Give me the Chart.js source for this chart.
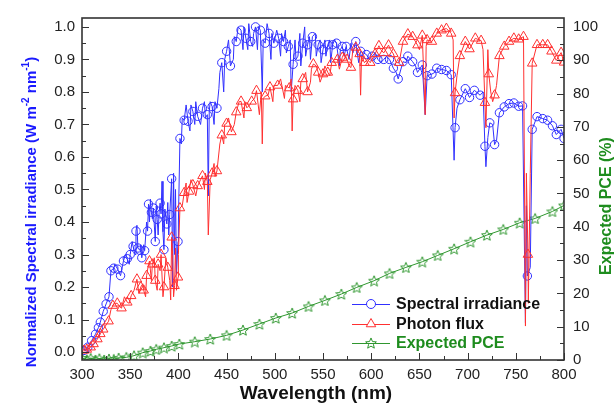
<!DOCTYPE html>
<html>
<head>
<meta charset="utf-8">
<script src="https://cdn.jsdelivr.net/npm/chart.js@4/dist/chart.umd.min.js"></script>
<style>
  html, body { margin: 0; padding: 0; background: #fff; }
  #wrap { width: 614px; height: 403px; }
</style>
</head>
<body>
<div id="wrap"><canvas id="spectrumChart" width="614" height="403"></canvas></div>
<script>
// tick labels
const xTickVals = [300, 350, 400, 450, 500, 550, 600, 650, 700, 750, 800];
const leftTickVals = [0, 0.1, 0.2, 0.3, 0.4, 0.5, 0.6, 0.7, 0.8, 0.9, 1.0];
const rightTickVals = [0, 10, 20, 30, 40, 50, 60, 70, 80, 90, 100];

// Spectral irradiance - points with circle markers
const irrWl = [302, 306, 310, 314, 317, 319, 322, 325, 328, 330, 333, 337, 340, 343, 347, 350, 353, 356, 358, 360,
  362, 365, 368, 369, 372, 374, 376, 378, 381, 382, 385, 388, 391, 393, 399.6, 401.6, 406, 410, 415, 420,
  425, 430, 435, 440, 445, 450, 454, 460, 465, 470, 475, 480, 485, 490, 494, 499, 504, 509, 514, 519,
  524, 529, 534, 539, 545, 550, 555, 560, 564, 570, 574, 584, 589, 595, 601, 607, 613, 619, 623, 628,
  633, 638, 643, 648, 653, 658, 663, 668, 673, 678, 683, 687, 692, 697.6, 702, 707, 713, 718, 723, 728,
  733, 738, 743, 748, 753, 757, 762, 767, 772, 778, 783, 788, 792, 797, 800];
const irrVal = [0.005, 0.015, 0.035, 0.055, 0.075, 0.092, 0.125, 0.148, 0.17, 0.25, 0.258, 0.255, 0.235, 0.28, 0.287, 0.30, 0.325, 0.372, 0.32, 0.313,
  0.29, 0.312, 0.372, 0.455, 0.43, 0.443, 0.34, 0.408, 0.458, 0.425, 0.315, 0.394, 0.423, 0.533, 0.34, 0.657, 0.713, 0.71, 0.74, 0.725,
  0.75, 0.73, 0.755, 0.75, 0.89, 0.925, 0.88, 0.955, 0.99, 0.965, 0.955, 1.0, 0.99, 0.95, 0.98, 0.95, 0.965, 0.955, 0.94, 0.885,
  0.91, 0.95, 0.945, 0.97, 0.945, 0.93, 0.945, 0.945, 0.95, 0.94, 0.94, 0.955, 0.925, 0.915, 0.91, 0.90, 0.90, 0.90, 0.873, 0.84,
  0.893, 0.91, 0.893, 0.86, 0.883, 0.85, 0.855, 0.873, 0.869, 0.866, 0.853, 0.69, 0.776, 0.81, 0.783, 0.805, 0.79, 0.633, 0.705, 0.638,
  0.736, 0.754, 0.764, 0.766, 0.756, 0.757, 0.234, 0.685, 0.724, 0.718, 0.713, 0.696, 0.669, 0.685, 0.657];
// Spectral irradiance - line only (absorption lines / noise)
const irrDipWl = [334, 345, 349, 352, 355, 357, 361, 364, 367, 370, 371, 373, 377, 379, 380, 383, 384, 386, 389, 390,
  392, 394, 395, 396, 397, 398, 400, 403, 404, 408, 412, 413, 417, 418, 423, 427, 428, 431, 432, 433,
  437, 438, 442, 443, 447, 448, 452, 457, 458, 462, 467, 468, 472, 473, 477, 478, 482, 483, 487, 488,
  492, 496, 497, 502, 506, 507, 511, 512, 516, 517, 521, 522, 526, 527, 531, 532, 536, 537, 542, 543,
  547, 548, 552, 553, 557, 558, 562, 567, 568, 572, 577, 579, 581, 587, 592, 598, 604, 610, 616, 626,
  636, 646, 656, 666, 686, 689, 716, 719, 721, 726, 730, 760, 761, 765];
const irrDipVal = [0.27, 0.30, 0.27, 0.34, 0.30, 0.39, 0.33, 0.33, 0.40, 0.40, 0.47, 0.41, 0.45, 0.36, 0.43, 0.525, 0.37, 0.44, 0.46, 0.36,
  0.48, 0.20, 0.55, 0.30, 0.50, 0.24, 0.40, 0.64, 0.72, 0.76, 0.68, 0.76, 0.70, 0.77, 0.70, 0.77, 0.72, 0.48, 0.74, 0.77,
  0.70, 0.77, 0.81, 0.86, 0.80, 0.90, 0.96, 0.90, 0.97, 1.0, 0.93, 1.0, 0.93, 1.01, 0.94, 0.98, 0.93, 1.0, 0.80, 0.96,
  1.01, 0.90, 0.98, 0.99, 0.91, 0.98, 0.99, 0.92, 0.96, 0.80, 0.96, 0.90, 0.98, 0.88, 1.0, 0.91, 0.97, 0.90, 0.98, 0.91,
  0.96, 0.89, 0.96, 0.91, 0.96, 0.89, 0.96, 0.88, 0.93, 0.91, 0.90, 0.95, 0.92, 0.89, 0.92, 0.90, 0.92, 0.89, 0.91, 0.86,
  0.89, 0.88, 0.73, 0.86, 0.59, 0.75, 0.80, 0.57, 0.66, 0.70, 0.65, 0.09, 0.45, 0.26];

// Photon flux - points with triangle markers
const fluxWl = [302, 305, 309, 312, 316, 319, 322, 327.6, 332, 336.6, 341, 347, 351, 357, 361, 364, 367, 370, 373, 376,
  379, 382, 385, 389, 393, 396, 399.6, 401.6, 406, 411, 415, 420, 425, 430, 435, 440, 445, 450, 455, 460,
  465, 471, 476, 481, 490, 495, 503, 515, 519, 524, 529, 534, 540, 545, 550, 555, 559, 565, 570, 575,
  579, 584, 588, 593, 599, 604, 608, 613, 618, 623, 629, 633, 638, 643, 648, 653, 658, 663, 668, 673,
  678, 683, 687, 692, 697.6, 702, 708, 714, 718, 722, 728, 733, 738, 743, 748, 753, 758, 762.6, 767, 772,
  778, 783, 787, 792, 797, 800];
const fluxVal = [0.005, 0.008, 0.015, 0.025, 0.04, 0.056, 0.07, 0.095, 0.143, 0.15, 0.135, 0.153, 0.173, 0.224, 0.2, 0.19, 0.235, 0.28, 0.27, 0.22,
  0.27, 0.30, 0.20, 0.26, 0.353, 0.204, 0.23, 0.443, 0.49, 0.494, 0.514, 0.511, 0.542, 0.524, 0.55, 0.557, 0.667, 0.703, 0.677, 0.738,
  0.771, 0.751, 0.771, 0.804, 0.787, 0.815, 0.82, 0.812, 0.778, 0.804, 0.84, 0.80, 0.886, 0.86, 0.855, 0.86, 0.89, 0.90, 0.906, 0.90,
  0.875, 0.937, 0.917, 0.89, 0.89, 0.917, 0.942, 0.92, 0.944, 0.917, 0.89, 0.955, 0.978, 0.97, 0.944, 0.974, 0.96, 0.955, 0.98, 0.99,
  0.995, 0.98, 0.797, 0.911, 0.955, 0.932, 0.965, 0.958, 0.767, 0.855, 0.79, 0.911, 0.94, 0.955, 0.965, 0.962, 0.97, 0.30, 0.888, 0.945,
  0.945, 0.945, 0.925, 0.897, 0.921, 0.891];
// Photon flux - line only
const fluxDipWl = [330, 334, 339, 344, 349, 354, 359, 363, 366, 369, 372, 375, 378, 381, 384, 387, 391, 392, 394, 395,
  397, 398, 400, 404, 408, 409, 413, 418, 423, 427, 428, 431, 433, 437, 438, 443, 447, 448, 452, 458,
  463, 468, 469, 474, 479, 484, 486, 487, 488, 493, 498, 499, 506, 510, 511, 517, 518, 521, 526, 527,
  532, 537, 538, 543, 547, 552, 557, 562, 567, 572, 577, 581, 589, 590, 596, 610, 620, 626, 650, 656,
  657, 685, 686, 689, 712, 716, 719, 721, 724, 726, 730, 760, 761, 763, 765];
const fluxDipVal = [0.13, 0.15, 0.14, 0.17, 0.15, 0.19, 0.18, 0.21, 0.17, 0.27, 0.22, 0.29, 0.19, 0.25, 0.17, 0.29, 0.22, 0.16, 0.30, 0.17,
  0.32, 0.19, 0.30, 0.45, 0.52, 0.46, 0.53, 0.48, 0.53, 0.50, 0.55, 0.36, 0.53, 0.58, 0.54, 0.64, 0.64, 0.70, 0.72, 0.70,
  0.77, 0.72, 0.77, 0.76, 0.78, 0.73, 0.80, 0.64, 0.78, 0.79, 0.77, 0.82, 0.84, 0.78, 0.82, 0.84, 0.68, 0.82, 0.77, 0.83,
  0.86, 0.83, 0.87, 0.88, 0.83, 0.88, 0.85, 0.90, 0.87, 0.92, 0.88, 0.93, 0.79, 0.91, 0.90, 0.93, 0.93, 0.89, 0.93, 0.73,
  0.94, 0.96, 0.72, 0.85, 0.96, 0.93, 0.69, 0.93, 0.80, 0.77, 0.82, 0.08, 0.55, 0.15, 0.55];

// Expected PCE (%) - right axis
const pceWl = [300, 305, 309, 314, 318, 323, 328, 333, 338, 346, 354, 363, 371, 377, 385, 393, 401, 417, 433, 450,
  467, 484, 501, 518, 535, 552, 569, 585, 603, 619, 636, 653, 669, 686, 703, 720, 737, 754, 770, 788, 800];
const pceVal = [0.6, 0.1, 0.5, 0, 0.4, 0, 0.3, 0.2, 0.6, 0.8, 1.3, 2.2, 2.7, 3.2, 3.7, 4.2, 4.8, 5.5, 6.3, 7.4,
  9.0, 10.8, 12.6, 14.1, 16.1, 17.9, 19.8, 21.8, 23.8, 26.0, 27.8, 29.5, 31.4, 33.4, 35.5, 37.5, 39.2, 41.2, 42.5, 44.6, 46.4];

const BLUE = "#3030ff";
const RED = "#ff3030";
const GREEN = "#2f972f";
const FONT = "'Liberation Sans', Arial, sans-serif";

// merge marker points and line-only points, sorted by wavelength
function buildSeries(wl, val, dipWl, dipVal) {
  const pts = wl.map((x, i) => ({ x: x, y: val[i], m: true }));
  (dipWl || []).forEach((x, i) => pts.push({ x: x, y: dipVal[i], m: false }));
  pts.sort((a, b) => a.x - b.x);
  return pts;
}

// hollow 5-point star used as point style
function makeStar(color, size) {
  const c = document.createElement("canvas");
  c.width = size;
  c.height = size;
  const g = c.getContext("2d");
  g.strokeStyle = color;
  g.lineWidth = 1;
  g.beginPath();
  for (let i = 0; i < 10; i++) {
    const r = i % 2 ? size * 0.21 : size * 0.47;
    const a = -Math.PI / 2 + (i * Math.PI) / 5;
    const px = size / 2 + r * Math.cos(a);
    const py = size / 2 + 0.6 + r * Math.sin(a);
    if (i === 0) g.moveTo(px, py);
    else g.lineTo(px, py);
  }
  g.closePath();
  g.stroke();
  return c;
}
const starImg = makeStar(GREEN, 12);

// frame, inward ticks, axis titles and legend
const decorPlugin = {
  id: "decor",
  afterDraw(chart) {
    const ctx = chart.ctx;
    const a = chart.chartArea;
    const sx = chart.scales.x, sy = chart.scales.y, sy2 = chart.scales.y2;
    ctx.save();
    ctx.strokeStyle = "#333";
    ctx.lineWidth = 1;
    ctx.beginPath();
    xTickVals.forEach((v, i) => {
      const px = Math.round(sx.getPixelForValue(v)) + 0.5;
      ctx.moveTo(px, a.bottom); ctx.lineTo(px, a.bottom - 7);
      if (i < xTickVals.length - 1) {
        const mx = Math.round(sx.getPixelForValue(v + 25)) + 0.5;
        ctx.moveTo(mx, a.bottom); ctx.lineTo(mx, a.bottom - 4);
      }
    });
    leftTickVals.forEach((v, i) => {
      const py = Math.round(sy.getPixelForValue(v)) + 0.5;
      ctx.moveTo(a.left, py); ctx.lineTo(a.left + 7, py);
      if (i < leftTickVals.length - 1) {
        const my = Math.round(sy.getPixelForValue(v + 0.05)) + 0.5;
        ctx.moveTo(a.left, my); ctx.lineTo(a.left + 4, my);
      }
    });
    rightTickVals.forEach((v, i) => {
      const py = Math.round(sy2.getPixelForValue(v)) + 0.5;
      ctx.moveTo(a.right, py); ctx.lineTo(a.right - 7, py);
      if (i < rightTickVals.length - 1) {
        const my = Math.round(sy2.getPixelForValue(v + 5)) + 0.5;
        ctx.moveTo(a.right, my); ctx.lineTo(a.right - 4, my);
      }
    });
    ctx.stroke();
    ctx.lineWidth = 1.6;
    ctx.strokeRect(a.left, a.top, a.right - a.left, a.bottom - a.top);

    // x title
    ctx.fillStyle = "#111";
    ctx.font = "bold 19px " + FONT;
    ctx.textAlign = "center";
    ctx.textBaseline = "middle";
    ctx.fillText("Wavelength (nm)", 316, 394);

    // left title with superscripts
    ctx.save();
    ctx.translate(32, 212);
    ctx.rotate(-Math.PI / 2);
    const parts = [
      ["Normalized Spectral irradiance (W m", false],
      ["-2", true],
      [" nm", false],
      ["-1", true],
      [")", false],
    ];
    const bigF = "bold 15px " + FONT, supF = "bold 10px " + FONT;
    let total = 0;
    parts.forEach((p) => { ctx.font = p[1] ? supF : bigF; total += ctx.measureText(p[0]).width; });
    let cx = -total / 2;
    ctx.fillStyle = "#1a1aff";
    ctx.textAlign = "left";
    parts.forEach((p) => {
      ctx.font = p[1] ? supF : bigF;
      ctx.fillText(p[0], cx, p[1] ? -6 : 0);
      cx += ctx.measureText(p[0]).width;
    });
    ctx.restore();

    // right title
    ctx.save();
    ctx.translate(607, 206);
    ctx.rotate(-Math.PI / 2);
    ctx.font = "bold 16px " + FONT;
    ctx.fillStyle = "#1e8c1e";
    ctx.textAlign = "center";
    ctx.fillText("Expected PCE (%)", 0, 0);
    ctx.restore();

    // legend
    const rows = [
      { label: "Spectral irradiance", color: BLUE, text: "#111", kind: "circle", y: 304 },
      { label: "Photon flux", color: RED, text: "#111", kind: "triangle", y: 324 },
      { label: "Expected PCE", color: GREEN, text: "#1e8c1e", kind: "star", y: 343 },
    ];
    rows.forEach((r) => {
      ctx.strokeStyle = r.color;
      ctx.lineWidth = 1;
      ctx.beginPath();
      ctx.moveTo(352, r.y + 0.5); ctx.lineTo(390, r.y + 0.5);
      ctx.stroke();
      if (r.kind === "circle") {
        ctx.fillStyle = "#fff";
        ctx.beginPath();
        ctx.arc(371, r.y, 4.5, 0, Math.PI * 2);
        ctx.fill(); ctx.stroke();
      } else if (r.kind === "triangle") {
        const rad = 5.5;
        ctx.fillStyle = "#fff";
        ctx.beginPath();
        ctx.moveTo(371, r.y - rad);
        ctx.lineTo(371 + rad * 0.866, r.y + rad * 0.5);
        ctx.lineTo(371 - rad * 0.866, r.y + rad * 0.5);
        ctx.closePath();
        ctx.fill(); ctx.stroke();
      } else {
        ctx.drawImage(starImg, 371 - 6, r.y - 6);
      }
      ctx.fillStyle = r.text;
      ctx.font = "bold 16px " + FONT;
      ctx.textAlign = "left";
      ctx.textBaseline = "middle";
      ctx.fillText(r.label, 396, r.y + 1);
    });
    ctx.restore();
  },
};

// Initialize the chart
(function () {
  const ctx = document.getElementById("spectrumChart").getContext("2d");
  const tickFont = { family: FONT, size: 15 };
  const markerRadius = (r) => (c) => (c.raw && c.raw.m ? r : 0);

  new Chart(ctx, {
    type: "line",
    data: {
      datasets: [
        {
          label: "Spectral irradiance",
          data: buildSeries(irrWl, irrVal, irrDipWl, irrDipVal),
          yAxisID: "y",
          borderColor: BLUE,
          borderWidth: 1,
          pointStyle: "circle",
          pointRadius: markerRadius(4.2),
          pointBorderColor: BLUE,
          pointBackgroundColor: "rgba(255,255,255,0)",
          pointBorderWidth: 1,
          tension: 0,
          order: 1,
        },
        {
          label: "Photon flux",
          data: buildSeries(fluxWl, fluxVal, fluxDipWl, fluxDipVal),
          yAxisID: "y",
          borderColor: RED,
          borderWidth: 1,
          pointStyle: "triangle",
          pointRadius: markerRadius(5.5),
          pointBorderColor: RED,
          pointBackgroundColor: "rgba(255,255,255,0)",
          pointBorderWidth: 1,
          tension: 0,
          order: 0,
        },
        {
          label: "Expected PCE",
          data: buildSeries(pceWl, pceVal),
          yAxisID: "y2",
          borderColor: GREEN,
          borderWidth: 1,
          pointStyle: starImg,
          pointRadius: markerRadius(6),
          tension: 0,
          order: 2,
        },
      ],
    },
    options: {
      responsive: false,
      animation: false,
      layout: { padding: { top: 15, left: 0, right: 0, bottom: 0 } },
      plugins: { legend: { display: false }, tooltip: { enabled: false } },
      scales: {
        x: {
          type: "linear",
          min: 300,
          max: 800,
          afterBuildTicks: (s) => { s.ticks = xTickVals.map((v) => ({ value: v })); },
          afterFit: (s) => { s.height = 43; },
          grid: { display: false, drawTicks: false },
          border: { display: false },
          ticks: { font: tickFont, color: "#222", padding: 6, maxRotation: 0, autoSkip: false },
        },
        y: {
          position: "left",
          min: -0.0244,
          max: 1.0274,
          afterBuildTicks: (s) => { s.ticks = leftTickVals.map((v) => ({ value: v })); },
          afterFit: (s) => { s.width = 82; },
          grid: { display: false, drawTicks: false },
          border: { display: false },
          ticks: { font: tickFont, color: "#222", padding: 7, autoSkip: false, callback: (v) => Number(v).toFixed(1) },
        },
        y2: {
          position: "right",
          min: 0,
          max: 102.68,
          afterBuildTicks: (s) => { s.ticks = rightTickVals.map((v) => ({ value: v })); },
          afterFit: (s) => { s.width = 50; },
          grid: { display: false, drawTicks: false },
          border: { display: false },
          ticks: { font: tickFont, color: "#222", padding: 9, autoSkip: false },
        },
      },
    },
    plugins: [decorPlugin],
  });
})();
</script>
</body>
</html>
